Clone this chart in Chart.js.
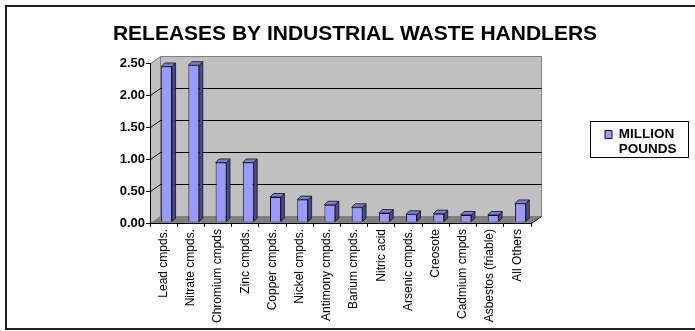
<!DOCTYPE html>
<html>
<head>
<meta charset="utf-8">
<title>Releases by industrial waste handlers</title>
<script src="https://cdn.jsdelivr.net/npm/chart.js@4.4.1/dist/chart.umd.min.js"></script>
<style>
  html, body { margin: 0; padding: 0; background: #fff; overflow: hidden; }
  #frame { position: absolute; left: 5px; top: 5px; width: 720px; height: 321px; border: 2px solid #222; }
  #wrap { position: absolute; left: 0; top: 0; width: 695px; height: 331px; }
</style>
</head>
<body>
<div id="frame"></div>
<div id="wrap"><canvas id="releasesChart"></canvas></div>
<script>
// chemicals, left to right
const categories = [
    'Lead cmpds.', 'Nitrate cmpds.', 'Chromium cmpds', 'Zinc cmpds.',
    'Copper cmpds.', 'Nickel cmpds.', 'Antimony cmpds.', 'Barium cmpds.',
    'Nitric acid', 'Arsenic cmpds.', 'Creosote', 'Cadmium cmpds',
    'Asbestos (friable)', 'All Others'
];
// releases, million pounds
const millionPounds = [2.43, 2.45, 0.93, 0.93, 0.39, 0.35, 0.27, 0.23, 0.14, 0.12, 0.13, 0.11, 0.11, 0.29];
const seriesLabel = 'MILLION POUNDS';
const yMax = 2.5;
const yStep = 0.5;

const FONT = 'Liberation Sans, Arial, Helvetica, sans-serif';

// --- 3D look: walls, floor and bar sides ---
const WALL_DX = 10, WALL_DY = -7;     // depth of the back wall
const BAR_DX = 3, BAR_DY = -1;        // bars sit a little behind the front edge
const SIDE_DX = 3.5, SIDE_DY = -3.5;  // thickness of each bar

function poly(ctx, pts, fill, stroke) {
    ctx.beginPath();
    ctx.moveTo(pts[0][0], pts[0][1]);
    for (let i = 1; i < pts.length; i++) ctx.lineTo(pts[i][0], pts[i][1]);
    ctx.closePath();
    if (fill) { ctx.fillStyle = fill; ctx.fill(); }
    if (stroke) { ctx.strokeStyle = stroke; ctx.stroke(); }
}

function line(ctx, x1, y1, x2, y2, color) {
    ctx.beginPath();
    ctx.moveTo(x1, y1);
    ctx.lineTo(x2, y2);
    ctx.strokeStyle = color;
    ctx.stroke();
}

const box3d = {
    id: 'box3d',
    beforeDraw(chart) {
        const { ctx, chartArea: a, scales: { y } } = chart;
        const L = a.left + 0.5, R = a.right + 0.5;
        const B = Math.round(y.getPixelForValue(0)) + 0.5;
        const T = Math.round(y.getPixelForValue(yMax)) + 0.5;
        ctx.save();
        ctx.lineWidth = 1;
        // back wall
        poly(ctx, [[L + WALL_DX, T + WALL_DY], [R + WALL_DX, T + WALL_DY],
                   [R + WALL_DX, B + WALL_DY], [L + WALL_DX, B + WALL_DY]], '#c0c0c0', '#808080');
        // left side wall
        poly(ctx, [[L, B], [L + WALL_DX, B + WALL_DY], [L + WALL_DX, T + WALL_DY], [L, T]], '#c0c0c0', '#808080');
        // gridlines across side wall and back wall
        y.ticks.forEach(tk => {
            if (tk.value <= 0 || tk.value >= yMax) return;
            const py = Math.round(y.getPixelForValue(tk.value)) + 0.5;
            line(ctx, L, py, L + WALL_DX, py + WALL_DY, '#000');
            line(ctx, L + WALL_DX, py + WALL_DY, R + WALL_DX, py + WALL_DY, '#000');
        });
        // floor
        poly(ctx, [[L, B], [R, B], [R + WALL_DX, B + WALL_DY], [L + WALL_DX, B + WALL_DY]], '#808080', null);
        line(ctx, R, B, R + WALL_DX, B + WALL_DY, '#000');
        ctx.restore();
    },
    beforeDatasetsDraw(chart) {
        chart.ctx.save();
        chart.ctx.translate(BAR_DX, BAR_DY);
    },
    afterDatasetsDraw(chart) {
        const ctx = chart.ctx;
        ctx.lineWidth = 0.8;
        chart.getDatasetMeta(0).data.forEach(bar => {
            const { x, y, base, width } = bar.getProps(['x', 'y', 'base', 'width'], true);
            const l = x - width / 2, r = x + width / 2;
            // right side
            poly(ctx, [[r, y], [r + SIDE_DX, y + SIDE_DY], [r + SIDE_DX, base + SIDE_DY], [r, base]], '#4a4a96', '#111');
            // top
            poly(ctx, [[l, y], [l + SIDE_DX, y + SIDE_DY], [r + SIDE_DX, y + SIDE_DY], [r, y]], '#7d7dd6', '#111');
        });
        ctx.restore();
    },
    afterDraw(chart) {
        // frame round the legend item
        const hb = chart.legend && chart.legend.legendHitBoxes && chart.legend.legendHitBoxes[0];
        if (!hb) return;
        const ctx = chart.ctx;
        ctx.save();
        ctx.lineWidth = 1;
        ctx.strokeStyle = '#000';
        const left = Math.round(hb.left - 15) + 0.5;
        const top = Math.round(hb.top - 7) + 0.5;
        ctx.strokeRect(left, top, 98, 36);
        ctx.restore();
    }
};

const chart = new Chart(document.getElementById('releasesChart'), {
    type: 'bar',
    data: {
        labels: categories,
        datasets: [{
            label: seriesLabel,
            data: millionPounds,
            backgroundColor: '#9999ff',
            borderColor: '#111',
            borderWidth: 1,
            barPercentage: 0.4,
            categoryPercentage: 1
        }]
    },
    options: {
        responsive: true,
        maintainAspectRatio: false,
        animation: false,
        events: [],
        layout: { padding: { left: 31, right: 16, top: 8, bottom: 0 } },
        plugins: {
            title: {
                display: true,
                text: 'RELEASES BY INDUSTRIAL WASTE HANDLERS',
                color: '#000',
                font: { family: FONT, size: 21, weight: 'bold', lineHeight: 1.2 },
                padding: { top: 14, bottom: 15.8 }
            },
            legend: {
                position: 'right',
                align: 'center',
                fullSize: false,
                maxWidth: 148,
                labels: {
                    boxWidth: 7,
                    boxHeight: 8,
                    padding: 74,
                    color: '#000',
                    font: { family: FONT, size: 13.5, weight: 'bold', lineHeight: 1.13 },
                    generateLabels(c) {
                        const ds = c.data.datasets[0];
                        return [{
                            text: ds.label.split(' '),
                            fillStyle: ds.backgroundColor,
                            strokeStyle: '#111',
                            lineWidth: 1,
                            hidden: false,
                            datasetIndex: 0
                        }];
                    }
                }
            },
            tooltip: { enabled: false }
        },
        scales: {
            x: {
                afterFit(scale) { scale.height = 108; },
                border: { display: true, color: '#000', width: 1 },
                grid: { offset: true, drawOnChartArea: false, tickLength: 4, color: '#000' },
                ticks: {
                    autoSkip: false,
                    minRotation: 90,
                    maxRotation: 90,
                    padding: 2,
                    color: '#000',
                    font: { family: FONT, size: 12 }
                }
            },
            y: {
                min: 0,
                max: yMax,
                afterFit(scale) { scale.width = 119; },
                border: { display: true, color: '#000', width: 1 },
                grid: { drawOnChartArea: false, tickLength: 4, color: '#000' },
                ticks: {
                    stepSize: yStep,
                    padding: 1,
                    color: '#000',
                    font: { family: FONT, size: 13, weight: 'bold' },
                    callback: v => Number(v).toFixed(2)
                }
            }
        }
    },
    plugins: [box3d]
});
</script>
</body>
</html>
